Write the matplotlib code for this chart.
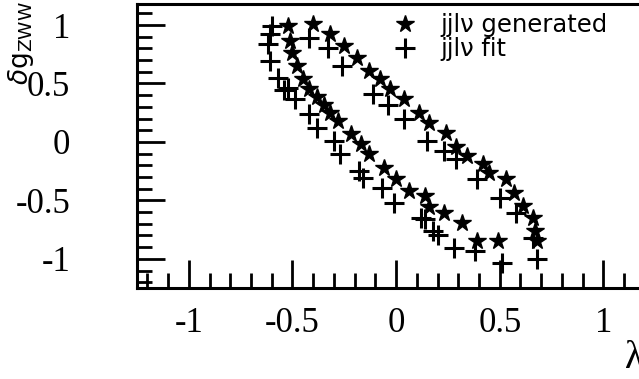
import matplotlib.pyplot as plt
from matplotlib.ticker import MultipleLocator

# jjlv generated contour (stars)
gen_lam = [-0.52, -0.40, -0.32, -0.25, -0.19, -0.13, -0.08, -0.03, 0.04, 0.11,
           0.16, 0.24, 0.29, 0.34, 0.42, 0.45, 0.53, 0.57, 0.61, 0.66, 0.67, 0.68,
           -0.51, -0.50, -0.48, -0.45, -0.42, -0.38, -0.35, -0.32, -0.28, -0.22,
           -0.17, -0.13, -0.06, 0.00, 0.06, 0.14, 0.16, 0.23, 0.32, 0.39, 0.49]
gen_dg = [0.99, 1.01, 0.92, 0.82, 0.72, 0.61, 0.54, 0.45, 0.37, 0.25,
          0.16, 0.08, -0.04, -0.12, -0.19, -0.27, -0.32, -0.44, -0.55, -0.65, -0.76, -0.85,
          0.86, 0.76, 0.65, 0.54, 0.45, 0.38, 0.32, 0.25, 0.18, 0.07,
          -0.02, -0.10, -0.22, -0.32, -0.42, -0.46, -0.56, -0.61, -0.69, -0.85, -0.85]

# jjlv fit contour (crosses)
fit_lam = [-0.60, -0.61, -0.62, -0.61, -0.57, -0.54, -0.52, -0.49, -0.42, -0.38,
           -0.30, -0.27, -0.18, -0.16, -0.07, -0.01, 0.12, 0.14, 0.18, 0.20,
           0.28, 0.38, 0.51,
           -0.42, -0.33, -0.26, -0.11, -0.04, 0.04, 0.15, 0.23, 0.29, 0.39,
           0.50, 0.58, 0.66, 0.68]
fit_dg = [0.99, 0.92, 0.84, 0.69, 0.55, 0.44, 0.46, 0.37, 0.24, 0.12,
          0.01, -0.10, -0.25, -0.31, -0.39, -0.52, -0.65, -0.66, -0.76, -0.80,
          -0.91, -0.93, -1.04,
          0.89, 0.80, 0.65, 0.41, 0.32, 0.20, 0.01, -0.08, -0.15, -0.32,
          -0.48, -0.61, -0.82, -1.00]

xticks = [-1, -0.5, 0, 0.5, 1]
xtick_labels = ["-1", "-0.5", "0", "0.5", "1"]
yticks = [-1, -0.5, 0, 0.5, 1]
ytick_labels = ["-1", "-0.5", "0", "0.5", "1"]

fig = plt.figure(figsize=(6.39, 3.79), dpi=100)
ax = fig.add_axes([0.2144, 0.24, 0.811, 0.7495])

ax.plot(fit_lam, fit_dg, "+", color="black", markersize=14, mew=2.2,
        linestyle="none", label="jjl\u03bd fit")
ax.plot(gen_lam, gen_dg, "*", color="black", markersize=13,
        linestyle="none", label="jjl\u03bd generated")

ax.set_xlim(-1.25, 1.25)
ax.set_ylim(-1.25, 1.18)

ax.set_xticks(xticks)
ax.set_xticklabels(xtick_labels)
ax.set_yticks(yticks)
ax.set_yticklabels(ytick_labels)
ax.xaxis.set_minor_locator(MultipleLocator(0.1))
ax.yaxis.set_minor_locator(MultipleLocator(0.1))

ax.tick_params(which="both", direction="in", width=2, top=False, right=False)
ax.tick_params(which="major", length=20, pad=14)
ax.tick_params(which="minor", length=11)
ax.tick_params(axis="y", which="major", pad=48)
for lbl in ax.get_xticklabels() + ax.get_yticklabels():
    lbl.set_fontfamily("Liberation Serif")
    lbl.set_fontsize(25)

for sp in ax.spines.values():
    sp.set_linewidth(2.2)

# legend: stars first, then crosses
h, l = ax.get_legend_handles_labels()
ax.legend(h[::-1], l[::-1], loc="upper left", bbox_to_anchor=(0.45, 1.045),
          frameon=False, fontsize=17.5, handlelength=1.1, handletextpad=0.9,
          labelspacing=0.0)

fig.text(0.01, 0.885, r"$\delta\mathregular{g}_{\mathregular{ZWW}}$", rotation=90,
         fontsize=19, ha="left", va="center")
fig.text(0.978, 0.055, "\u03bb", fontsize=28, family="Liberation Serif",
         ha="left", va="center")

fig.savefig("out.png", dpi=100)
